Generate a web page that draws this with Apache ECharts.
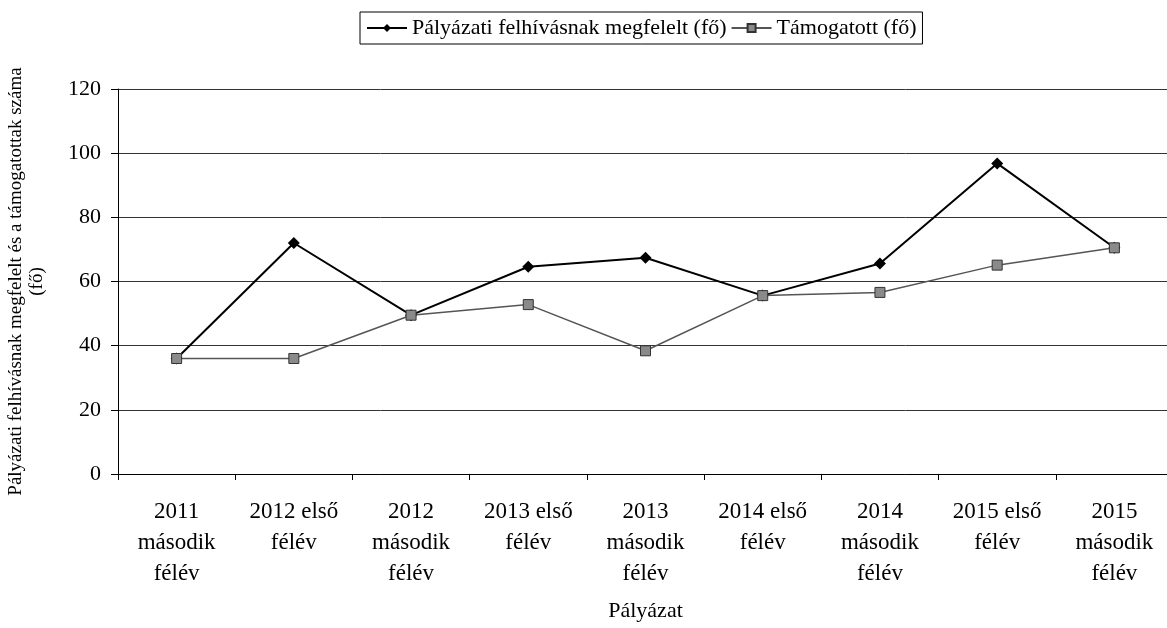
<!DOCTYPE html>
<html>
<head>
<meta charset="utf-8">
<script src="https://cdn.jsdelivr.net/npm/echarts@6/dist/echarts.min.js"></script>
<style>
  html, body { margin: 0; padding: 0; background: #fff; }
  #chart { width: 1167px; height: 628px; }
</style>
</head>
<body>
<div id="chart"></div>
<script>
// categories (x axis)
const categories = [
    '2011\nmásodik\nfélév', '2012 első\nfélév', '2012\nmásodik\nfélév',
    '2013 első\nfélév', '2013\nmásodik\nfélév', '2014 első\nfélév',
    '2014\nmásodik\nfélév', '2015 első\nfélév', '2015\nmásodik\nfélév'
];
// series values
const megfelelt = [36, 72, 49.5, 64.6, 67.4, 55.6, 65.6, 96.8, 70.5];
const tamogatott = [36, 36, 49.5, 52.8, 38.4, 55.6, 56.6, 65.1, 70.5];

const font = 'Liberation Serif, Times New Roman, serif';

const chart = echarts.init(document.getElementById('chart'));
const option = {
    animation: false,
    textStyle: { fontFamily: font, color: '#000' },
    legend: {
        top: 12,
        left: 360,
        itemWidth: 40,
        itemHeight: 10,
        itemGap: 4,
        padding: [5, 6, 5, 6],
        borderColor: '#000',
        borderWidth: 1,
        textStyle: { fontFamily: font, fontSize: 22, color: '#000' },
        data: ['Pályázati felhívásnak megfelelt (fő)', 'Támogatott (fő)']
    },
    grid: {
        left: 118,
        right: -6,
        top: 89,
        bottom: 154,
        outerBoundsMode: 'none'
    },
    xAxis: {
        type: 'category',
        data: categories,
        boundaryGap: true,
        name: 'Pályázat',
        nameLocation: 'middle',
        nameGap: 126,
        nameTextStyle: { fontFamily: font, fontSize: 22, color: '#000' },
        axisLine: { lineStyle: { color: '#000', width: 1 } },
        axisTick: { show: true, length: 6, lineStyle: { color: '#000' } },
        axisLabel: {
            fontFamily: font, fontSize: 23, color: '#000',
            lineHeight: 31, margin: 22, interval: 0
        }
    },
    yAxis: {
        type: 'value',
        min: 0,
        max: 120,
        interval: 20,
        name: 'Pályázati felhívásnak megfelelt és a támogatottak száma\n(fő)',
        nameLocation: 'middle',
        nameGap: 70,
        nameTextStyle: { fontFamily: font, fontSize: 19, color: '#000', lineHeight: 21 },
        axisLine: { show: true, lineStyle: { color: '#000', width: 1 } },
        axisTick: { show: true, length: 7, lineStyle: { color: '#000' } },
        axisLabel: { fontFamily: font, fontSize: 22, color: '#000', margin: 17 },
        splitLine: { lineStyle: { color: '#333', width: 1 } }
    },
    series: [
        {
            name: 'Pályázati felhívásnak megfelelt (fő)',
            type: 'line',
            data: megfelelt,
            symbol: 'diamond',
            symbolSize: 12,
            lineStyle: { color: '#000', width: 2 },
            itemStyle: { color: '#000' },
            z: 3
        },
        {
            name: 'Támogatott (fő)',
            type: 'line',
            data: tamogatott,
            symbol: 'rect',
            symbolSize: 10,
            lineStyle: { color: '#555', width: 1.5 },
            itemStyle: { color: '#8a8a8a', borderColor: '#333', borderWidth: 1 },
            z: 4
        }
    ]
};
chart.setOption(option);
</script>
</body>
</html>
